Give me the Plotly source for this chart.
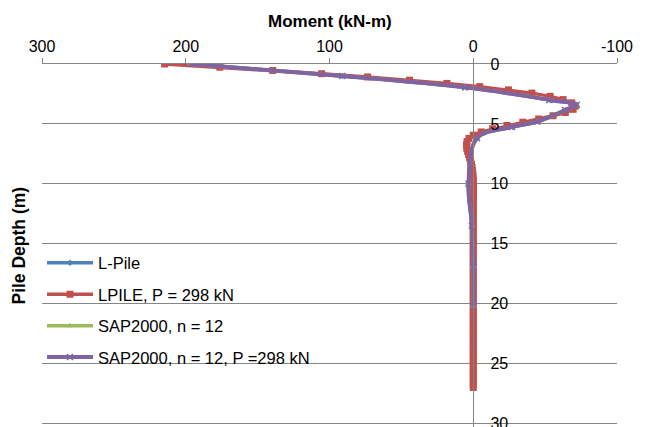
import plotly.graph_objects as go

# LPILE, P = 298 kN
lp_depth = [0, 0.27, 0.54, 0.81, 1.08, 1.35, 1.62, 1.89, 2.16, 2.43, 2.7, 2.97, 3.24, 3.51, 3.78,
            4.05, 4.32, 4.59, 4.86, 5.13, 5.4, 5.67, 5.94, 6.21, 6.48, 6.75, 7.02, 7.29, 7.56, 7.83,
            8.1, 8.37, 8.64, 8.91, 9.18, 9.45, 9.72, 9.99, 10.26, 10.53, 10.8, 11.07, 11.34, 11.61,
            11.88, 12.15, 12.42, 12.69, 12.96, 13.23, 13.5, 13.77, 14.04, 14.31, 14.58, 14.85, 15.12,
            15.39, 15.66, 15.93, 16.2, 16.47, 16.74, 17.01, 17.28, 17.55, 17.82, 18.09, 18.36, 18.63,
            18.9, 19.17, 19.44, 19.71, 19.98, 20.25, 20.52, 20.79, 21.06, 21.33, 21.6, 21.87, 22.14,
            22.41, 22.68, 22.95, 23.22, 23.49, 23.76, 24.03, 24.3, 24.57, 24.84, 25.11, 25.38, 25.65,
            25.92, 26.19, 26.46, 26.73, 27.0]
lp_moment = [214.7, 176.3, 139.5, 105.5, 73.5, 44.3, 18.3, -4.5, -24.5, -40.8, -53.5, -62.5, -68.5,
             -71.0, -69.5, -64.0, -55.5, -45.5, -34.5, -23.5, -13.5, -5.5, 0.0, 3.0, 4.3, 4.7, 4.5,
             3.9, 3.2, 2.5, 1.8, 1.2, 0.8, 0.5, 0.3, 0.1, 0.0, -0.1, -0.1, -0.1, -0.1, -0.1, -0.1,
             -0.1, 0.0, 0.0, 0.0, 0.0, 0.0, 0.0, 0.0, 0.0, 0.0, 0.0, 0.0, 0.0, 0.0, 0.0, 0.0, 0.0,
             0.0, 0.0, 0.0, 0.0, 0.0, 0.0, 0.0, 0.0, 0.0, 0.0, 0.0, 0.0, 0.0, 0.0, 0.0, 0.0, 0.0,
             0.0, 0.0, 0.0, 0.0, 0.0, 0.0, 0.0, 0.0, 0.0, 0.0, 0.0, 0.0, 0.0, 0.0, 0.0, 0.0, 0.0,
             0.0, 0.0, 0.0, 0.0, 0.0, 0.0, 0.0]

# SAP2000 / L-Pile (n = 12)
sap_depth = [0, 1.0, 1.95, 3.0, 3.4, 3.85, 4.8, 5.25, 6.2, 10.0, 13.5, 16.9, 20.2]
lpile_moment = [196.0, 91.0, 5.0, -53.5, -71.5, -64.5, -45.0, -27.5, -2.5, 3.3, 0.9, 0.1, 0.0]
sap_moment = [196.7, 91.2, 5.6, -53.0, -72.0, -64.0, -44.7, -27.0, -2.6, 3.3, 0.9, 0.0, 0.0]
sapp_moment = [196.7, 91.2, 5.6, -53.0, -72.0, -64.0, -44.7, -27.0, -2.6, 3.3, 0.9, 0.0, 0.0]

x_ticks = [300, 200, 100, 0, -100]
x_tick_text = ["300", "200", "100", "0", "-100"]
y_ticks = [0, 5, 10, 15, 20, 25, 30]

names = ["L-Pile", "LPILE, P = 298 kN", "SAP2000, n = 12", "SAP2000, n = 12, P =298 kN"]
colors = ["#4F81BD", "#C0504D", "#9BBB59", "#8064A2"]

fig = go.Figure()
fig.add_trace(go.Scatter(x=lpile_moment, y=sap_depth, name=names[0], mode="lines+markers",
                         line=dict(color=colors[0], width=3.5, shape="spline"),
                         marker=dict(symbol="diamond", size=5, color=colors[0]),
                         legendgroup="a"))
fig.add_trace(go.Scatter(x=lp_moment, y=lp_depth, name=names[1], mode="lines+markers",
                         line=dict(color=colors[1], width=3.5),
                         marker=dict(symbol="square", size=7, color=colors[1]),
                         legendgroup="b"))
fig.add_trace(go.Scatter(x=sap_moment, y=sap_depth, name=names[2], mode="lines+markers",
                         line=dict(color=colors[2], width=3.5, shape="spline"),
                         marker=dict(symbol="triangle-up", size=6, color=colors[2]),
                         legendgroup="c"))
fig.add_trace(go.Scatter(x=sapp_moment, y=sap_depth, name=names[3], mode="lines+markers",
                         line=dict(color=colors[3], width=4, shape="spline"),
                         marker=dict(symbol="x-thin", size=6, color=colors[3],
                                     line=dict(color=colors[3], width=1.5)),
                         legendgroup="d"))

font = "Liberation Sans, Arial, sans-serif"
fig.update_layout(
    width=648, height=427,
    margin=dict(l=42, r=31, t=64, b=0, autoexpand=False),
    paper_bgcolor="white", plot_bgcolor="white",
    font=dict(family=font, size=16, color="black"),
    showlegend=True,
    legend=dict(x=0.0, y=0.5, xanchor="left", yanchor="top",
                bgcolor="rgba(0,0,0,0)", tracegroupgap=7,
                font=dict(family=font, size=16.5), itemwidth=46),
    xaxis=dict(range=[300, -100], side="top", tickvals=x_ticks, ticktext=x_tick_text,
               showgrid=False, zeroline=False, automargin=False,
               showline=True, linecolor="#868686", linewidth=1,
               ticks="outside", ticklen=5, tickcolor="#868686",
               tickfont=dict(family=font, size=16)),
    yaxis=dict(range=[30.3, 0], tickvals=y_ticks, showgrid=True, gridcolor="#868686", gridwidth=1,
               zeroline=False, showline=True, linecolor="#868686", linewidth=1,
               anchor="free", position=0.75, side="right", ticks="",
               ticklabeloverflow="allow", automargin=False,
               ticklabelstandoff=13, tickfont=dict(family=font, size=16)),
    annotations=[
        dict(text="<b>Moment (kN-m)</b>", xref="paper", yref="paper", x=0.5, y=1.116,
             xanchor="center", yanchor="middle", showarrow=False,
             font=dict(family=font, size=17)),
        dict(text="<b>Pile Depth (m)</b>", xref="paper", yref="paper", x=-0.0417, y=0.5,
             xanchor="center", yanchor="middle", textangle=-90, showarrow=False,
             font=dict(family=font, size=17.5)),
    ],
)

fig.write_html("out.html")
